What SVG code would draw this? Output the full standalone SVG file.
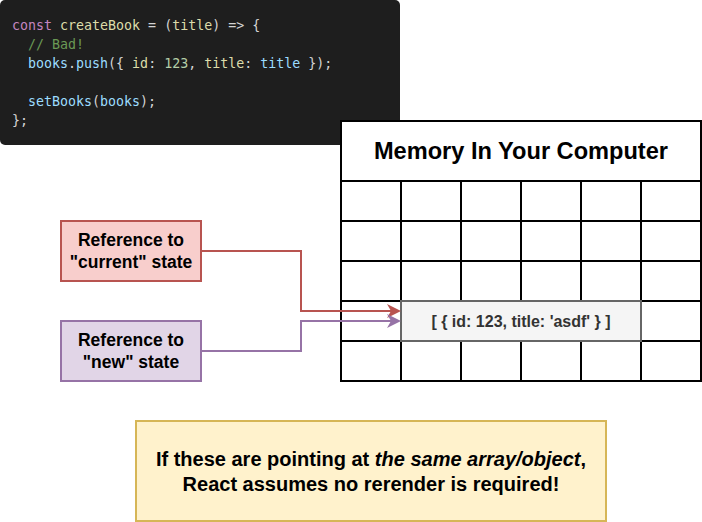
<svg xmlns="http://www.w3.org/2000/svg" width="702" height="522" viewBox="0 0 702 522">
<defs>
<style>
.code{font-family:"DejaVu Sans Mono","Liberation Mono",monospace;font-size:13.3px;white-space:pre}
.kw{fill:#c586c0}.fn{fill:#dcdcaa}.pl{fill:#d4d4d4}.var{fill:#9cdcfe}.cm{fill:#6a9955}.num{fill:#b5cea8}
.lbl{font-family:"Liberation Sans",Arial,sans-serif;font-weight:bold;text-anchor:middle;fill:#000}
.grid{stroke:#000;stroke-width:2;fill:none}
.conn{fill:none;stroke-width:2}
</style>
<marker id="arrRed" markerUnits="userSpaceOnUse" markerWidth="16" markerHeight="16" refX="10" refY="7" orient="auto">
<path d="M0,0 L14,7 L0,14 L4,7 z" fill="#b85450"/>
</marker>
<marker id="arrPurple" markerUnits="userSpaceOnUse" markerWidth="16" markerHeight="16" refX="10" refY="7" orient="auto">
<path d="M0,0 L14,7 L0,14 L4,7 z" fill="#9673a6"/>
</marker>
</defs>
<rect width="702" height="522" fill="#fff"/>

<g id="code-snippet">
<rect x="0" y="0" width="400" height="145" rx="5" fill="#1e1e1e"/>
<text class="code" x="12" y="29.5"><tspan class="kw">const</tspan><tspan class="pl"> </tspan><tspan class="fn">createBook</tspan><tspan class="pl"> = (</tspan><tspan class="fn">title</tspan><tspan class="pl">) =&gt; {</tspan></text>
<text class="code" x="28" y="48.5"><tspan class="cm">// Bad!</tspan></text>
<text class="code" x="28" y="67.5"><tspan class="var">books</tspan><tspan class="pl">.</tspan><tspan class="var">push</tspan><tspan class="pl">({ </tspan><tspan class="fn">id</tspan><tspan class="pl">: </tspan><tspan class="num">123</tspan><tspan class="pl">, </tspan><tspan class="fn">title</tspan><tspan class="pl">: </tspan><tspan class="var">title</tspan><tspan class="pl"> });</tspan></text>
<text class="code" x="28" y="105.5"><tspan class="var">setBooks</tspan><tspan class="pl">(</tspan><tspan class="var">books</tspan><tspan class="pl">);</tspan></text>
<text class="code" x="12" y="124.5"><tspan class="pl">};</tspan></text>
</g>

<g id="memory">
<rect x="341" y="121" width="360" height="260" fill="#fff" stroke="#000" stroke-width="2"/>
<path class="grid" d="M341,181H701M341,221H701M341,261H701M341,301H701M341,341H701M401,181V381M461,181V381M521,181V381M581,181V381M641,181V381"/>
<text class="lbl" x="521" y="159" font-size="23.6">Memory In Your Computer</text>
</g>

<g id="array-value">
<rect x="401" y="301" width="240" height="40" fill="#f5f5f5" stroke="#666666" stroke-width="2"/>
<text class="lbl" x="521" y="326.5" font-size="16" style="fill:#333333">[ { id: 123, title: 'asdf' } ]</text>
</g>

<g id="ref-current">
<rect x="61" y="221" width="140" height="60" fill="#f8cecc" stroke="#b85450" stroke-width="2"/>
<text class="lbl" x="131" y="246" font-size="17.5">Reference to</text>
<text class="lbl" x="131" y="268" font-size="17.5">"current" state</text>
</g>

<g id="ref-new">
<rect x="61" y="321" width="140" height="60" fill="#e1d5e7" stroke="#9673a6" stroke-width="2"/>
<text class="lbl" x="131" y="346" font-size="17.5">Reference to</text>
<text class="lbl" x="131" y="368" font-size="17.5">"new" state</text>
</g>

<g id="note">
<rect x="136" y="421" width="470" height="100" fill="#fff2cc" stroke="#d6b656" stroke-width="2"/>
<text class="lbl" x="371" y="466" font-size="20">If these are pointing at <tspan font-style="italic">the same array/object</tspan>,</text>
<text class="lbl" x="371" y="491" font-size="20">React assumes no rerender is required!</text>
</g>

<g id="connectors">
<path class="conn" stroke="#b85450" d="M201,251 H301 V311 H397" marker-end="url(#arrRed)"/>
<path class="conn" stroke="#9673a6" d="M201,351 H301 V321 H397" marker-end="url(#arrPurple)"/>
</g>
</svg>
